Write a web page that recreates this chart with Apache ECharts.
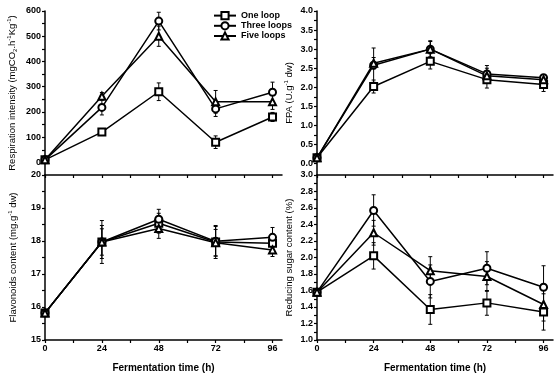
<!DOCTYPE html>
<html>
<head>
<meta charset="utf-8">
<script src="https://cdn.jsdelivr.net/npm/echarts@6/dist/echarts.min.js"></script>
<style>
  html, body { margin: 0; padding: 0; background: #fff; }
  #main { width: 554px; height: 378px; }
</style>
</head>
<body>
<div id="main"></div>
<script>
// fermentation time (h)
const hours = [0, 24, 48, 72, 96];
const hourLabels = [0, 24, 48, 72, 96];
const hourTicks = [0, 12, 24, 36, 48, 60, 72, 84, 96];
const seriesNames = ['One loop', 'Three loops', 'Five loops'];

// respiration intensity
const respOne = [10, 120, 280, 80, 180];
const respOneErr = [5, 12, 35, 25, 18];
const respThree = [10, 218, 560, 212, 278];
const respThreeErr = [5, 30, 35, 30, 40];
const respFive = [10, 262, 500, 240, 240];
const respFiveErr = [5, 15, 40, 45, 30];
const respLabels = [0, 100, 200, 300, 400, 500, 600];

// FPA
const fpaOne = [0.15, 2.02, 2.68, 2.2, 2.07];
const fpaOneErr = [0.05, 0.17, 0.2, 0.22, 0.18];
const fpaThree = [0.15, 2.58, 3.0, 2.35, 2.25];
const fpaThreeErr = [0.05, 0.45, 0.2, 0.22, 0.06];
const fpaFive = [0.15, 2.63, 3.0, 2.3, 2.2];
const fpaFiveErr = [0.05, 0.15, 0.22, 0.2, 0.1];
const fpaLabels = [0, 0.5, 1.0, 1.5, 2.0, 2.5, 3.0, 3.5, 4.0];

// flavonoids content
const flavOne = [15.82, 17.97, 18.54, 17.97, 17.93];
const flavOneErr = [0.05, 0.65, 0.3, 0.5, 0.2];
const flavThree = [15.82, 17.97, 18.66, 17.99, 18.11];
const flavThreeErr = [0.05, 0.5, 0.3, 0.45, 0.3];
const flavFive = [15.82, 17.97, 18.38, 17.95, 17.73];
const flavFiveErr = [0.05, 0.4, 0.3, 0.4, 0.2];
const flavLabels = [15, 16, 17, 18, 19, 20];

// reducing sugar content
const sugarOne = [1.58, 2.02, 1.37, 1.45, 1.34];
const sugarOneErr = [0.03, 0.16, 0.18, 0.15, 0.22];
const sugarThree = [1.58, 2.57, 1.71, 1.87, 1.64];
const sugarThreeErr = [0.03, 0.19, 0.2, 0.2, 0.26];
const sugarFive = [1.58, 2.3, 1.84, 1.77, 1.43];
const sugarFiveErr = [0.03, 0.15, 0.17, 0.18, 0.2];
const sugarLabels = [1.0, 1.2, 1.4, 1.6, 1.8, 2.0, 2.2, 2.4, 2.6, 2.8, 3.0];

const font = 'Liberation Sans, Arial, sans-serif';
const symbols = ['emptyRect', 'emptyCircle', 'emptyTriangle'];

const chart = echarts.init(document.getElementById('main'));

function xAxis(gi, showLabel) {
  return {
    gridIndex: gi,
    type: 'value',
    min: 0,
    max: 100,
    axisLine: { show: true, onZero: false, lineStyle: { color: '#000', width: 1.5 } },
    axisTick: { show: true, customValues: hourTicks, length: 3, lineStyle: { color: '#000', width: 1.2 } },
    axisLabel: {
      show: showLabel, customValues: hourLabels, margin: 4,
      fontSize: 9, fontWeight: 'bold', color: '#000', fontFamily: font
    },
    splitLine: { show: false },
    name: showLabel ? 'Fermentation time (h)' : '',
    nameLocation: 'middle',
    nameGap: 23,
    nameTextStyle: { fontSize: 10, fontWeight: 'bold', color: '#000', fontFamily: font }
  };
}

function yAxis(gi, min, max, labels, ticks, digits, name, gap) {
  return {
    gridIndex: gi,
    type: 'value',
    min: min,
    max: max,
    axisLine: { show: true, onZero: false, lineStyle: { color: '#000', width: 1.5 } },
    axisTick: { show: true, customValues: ticks, length: 3, lineStyle: { color: '#000', width: 1.2 } },
    axisLabel: {
      customValues: labels, margin: 4,
      fontSize: 9, fontWeight: 'bold', color: '#000', fontFamily: font,
      formatter: function (v) { return v.toFixed(digits); }
    },
    splitLine: { show: false },
    name: name,
    nameLocation: 'middle',
    nameGap: gap,
    nameTextStyle: {
      fontSize: 9.5, color: '#000', fontFamily: font,
      rich: {
        sup: { fontSize: 6, verticalAlign: 'top', padding: [0, 0, 6, 0], fontFamily: font },
        sub: { fontSize: 6, verticalAlign: 'bottom', padding: [5, 0, 0, 0], fontFamily: font }
      }
    }
  };
}

function steps(a, b, s) {
  const out = [];
  for (let v = a; v <= b + 1e-9; v += s) out.push(Math.round(v * 1000) / 1000);
  return out;
}

function renderErr(params, api) {
  const x = api.value(0);
  const p1 = api.coord([x, api.value(2)]);
  const p2 = api.coord([x, api.value(1)]);
  const w = 2;
  const st = { stroke: '#000', lineWidth: 1 };
  return {
    type: 'group',
    children: [
      { type: 'line', shape: { x1: p1[0], y1: p1[1], x2: p2[0], y2: p2[1] }, style: st },
      { type: 'line', shape: { x1: p1[0] - w, y1: p1[1], x2: p1[0] + w, y2: p1[1] }, style: st },
      { type: 'line', shape: { x1: p2[0] - w, y1: p2[1], x2: p2[0] + w, y2: p2[1] }, style: st }
    ]
  };
}

function panelSeries(gi, values, errs) {
  const out = [];
  values.forEach(function (vals, k) {
    out.push({
      type: 'custom',
      xAxisIndex: gi,
      yAxisIndex: gi,
      renderItem: renderErr,
      encode: { x: 0, y: [1, 2] },
      z: 2,
      silent: true,
      data: hours.map(function (h, i) { return [h, vals[i] - errs[k][i], vals[i] + errs[k][i]]; })
    });
  });
  values.forEach(function (vals, k) {
    out.push({
      name: seriesNames[k],
      type: 'line',
      xAxisIndex: gi,
      yAxisIndex: gi,
      symbol: symbols[k],
      symbolSize: 7,
      z: 3,
      lineStyle: { color: '#000', width: 1.5 },
      itemStyle: { color: '#000', borderWidth: 1.3 },
      data: hours.map(function (h, i) { return [h, vals[i]]; })
    });
  });
  return out;
}

const option = {
  animation: false,
  backgroundColor: '#fff',
  textStyle: { fontFamily: font },
  legend: {
    orient: 'vertical',
    left: 208,
    top: 6,
    itemGap: 1,
    itemWidth: 22,
    itemHeight: 9,
    textStyle: { fontSize: 9, fontWeight: 'bold', color: '#000', fontFamily: font },
    data: seriesNames
  },
  grid: [
    { left: 45, top: 11, width: 237, height: 164 },
    { left: 317, top: 11, width: 236, height: 164 },
    { left: 45, top: 175, width: 237, height: 165 },
    { left: 317, top: 175, width: 236, height: 165 }
  ],
  xAxis: [xAxis(0, false), xAxis(1, false), xAxis(2, true), xAxis(3, true)],
  yAxis: [
    yAxis(0, -50, 600, respLabels, steps(0, 600, 50), 0,
      'Respiration intensity (mgCO{sub|2}.h{sup|-1}Kg{sup|-1})', 27),
    yAxis(1, -0.3, 4.0, fpaLabels, steps(0, 4, 0.25), 1, 'FPA (U.g{sup|-1} dw)', 22),
    yAxis(2, 15, 20, flavLabels, steps(15, 20, 0.5), 0, 'Flavonoids content (mg.g{sup|-1} dw)', 26),
    yAxis(3, 1.0, 3.0, sugarLabels, steps(1, 3, 0.1), 1, 'Reducing sugar content (%)', 23)
  ],
  series: [].concat(
    panelSeries(0, [respOne, respThree, respFive], [respOneErr, respThreeErr, respFiveErr]),
    panelSeries(1, [fpaOne, fpaThree, fpaFive], [fpaOneErr, fpaThreeErr, fpaFiveErr]),
    panelSeries(2, [flavOne, flavThree, flavFive], [flavOneErr, flavThreeErr, flavFiveErr]),
    panelSeries(3, [sugarOne, sugarThree, sugarFive], [sugarOneErr, sugarThreeErr, sugarFiveErr])
  )
};

chart.setOption(option);
</script>
</body>
</html>
